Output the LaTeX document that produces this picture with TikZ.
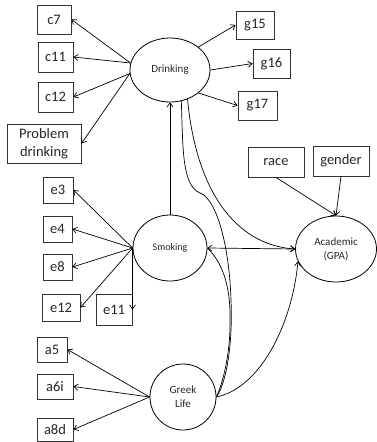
\documentclass[tikz,border=0pt]{standalone}
\usepackage{fontspec}
\setmainfont{Carlito}
\usetikzlibrary{arrows.meta,shapes.geometric}
\begin{document}
\begin{tikzpicture}[x=1pt,y=-1pt,
  box/.style={draw=black!80,line width=0.9pt,rectangle,inner sep=0pt,text=black!85,font=\fontsize{14.5}{17.5}\selectfont,align=center},
  lat/.style={draw=black,line width=0.8pt,ellipse,inner sep=0pt,text=black!85,align=center,font=\fontsize{11}{14}\selectfont},
  tip/.style={Straight Barb[length=4pt,width=6pt]},
  conn/.style={line width=0.7pt,-{Straight Barb[length=4pt,width=6pt]}},
  both/.style={line width=0.7pt,{Straight Barb[length=4pt,width=6pt]}-{Straight Barb[length=4pt,width=6pt]}},
  plainline/.style={line width=0.7pt}]
\useasboundingbox (0,0) rectangle (377,442);
% observed boxes
\node[box,minimum width=34pt,minimum height=29pt] (c7) at (54,19.5) {c7};
\node[box,minimum width=35pt,minimum height=30pt] (c11) at (55.5,57) {c11};
\node[box,minimum width=35pt,minimum height=30pt] (c12) at (55.5,97) {c12};
\node[box,minimum width=74pt,minimum height=39pt] (pd) at (44,143.5) {Problem\\drinking};
\node[box,minimum width=38pt,minimum height=28pt] (g15) at (255,25) {g15};
\node[box,minimum width=37pt,minimum height=29pt] (g16) at (271.5,63.5) {g16};
\node[box,minimum width=39pt,minimum height=29pt] (g17) at (257.5,105.5) {g17};
\node[box,minimum width=56pt,minimum height=30pt] (race) at (276,162) {race};
\node[box,minimum width=56pt,minimum height=30pt] (gender) at (341,161) {gender};
\node[box,minimum width=30pt,minimum height=26pt] (e3) at (58,190) {e3};
\node[box,minimum width=29pt,minimum height=26pt] (e4) at (57.5,229) {e4};
\node[box,minimum width=29pt,minimum height=26pt] (e8) at (57.5,267) {e8};
\node[box,minimum width=38pt,minimum height=27pt] (e12) at (61,307.5) {e12};
\node[box,minimum width=36pt,minimum height=31pt] (e11) at (114,309.5) {e11};
\node[box,minimum width=30pt,minimum height=25pt] (a5) at (52,349.5) {a5};
\node[box,minimum width=36pt,minimum height=25pt] (a6i) at (55,386.5) {a6i};
\node[box,minimum width=36pt,minimum height=23pt] (a8d) at (55,429.5) {a8d};
% latent ellipses
\node[lat,minimum width=80pt,minimum height=64pt] (drink) at (170,70) {Drinking};
\node[lat,minimum width=74pt,minimum height=66pt,font=\fontsize{10}{12}\selectfont] (smoke) at (170,248) {Smoking};
\node[lat,minimum width=81pt,minimum height=66pt] (acad) at (336,249) {Academic\\(GPA)};
\node[lat,minimum width=66pt,minimum height=66pt] (greek) at (183,397) {Greek\\Life};
% indicators
\draw[conn] (drink.170) -- (c7.east);
\draw[conn] (drink.170) -- (c11.east);
\draw[conn] (drink.185) -- (c12.east);
\draw[conn] (drink.185) -- (pd.east);
\draw[conn] (drink.39) -- (g15.west);
\draw[conn] (drink.east) -- (g16.west);
\draw[conn] (drink.321) -- (g17.west);
\draw[conn] (smoke.west) -- (e3.east);
\draw[conn] (smoke.west) -- (e4.east);
\draw[conn] (smoke.west) -- (e8.east);
\draw[conn] (smoke.west) -- (e12.east);
\draw[conn] (smoke.west) -- (e11.east);
\draw[conn] (greek.west) -- (a5.east);
\draw[conn] (greek.west) -- (a6i.east);
\draw[conn] (greek.west) -- (a8d.east);
% structural paths
\draw[conn] (smoke.north) -- (drink.south);
\draw[both] (smoke.east) -- (acad.west);
\draw[conn] (race.south) -- (acad.north);
\draw[conn] (gender.south) -- (acad.north);
\draw[conn] (drink.301) .. controls (196,190) and (235,245) .. (acad.west);
\draw[plainline] (greek.east) .. controls (225,385) and (233,350) .. (231,300)
  .. controls (229,240) and (215,198) .. (200,193)
  .. controls (182,185) and (183,150) .. (drink.290);
\draw[plainline] (greek.east) .. controls (224,380) and (231,350) .. (230,315)
  .. controls (230,285) and (222,262) .. (smoke.east);
\draw[conn] (greek.east) .. controls (260,388) and (292,325) .. (acad.198);
\end{tikzpicture}
\end{document}
